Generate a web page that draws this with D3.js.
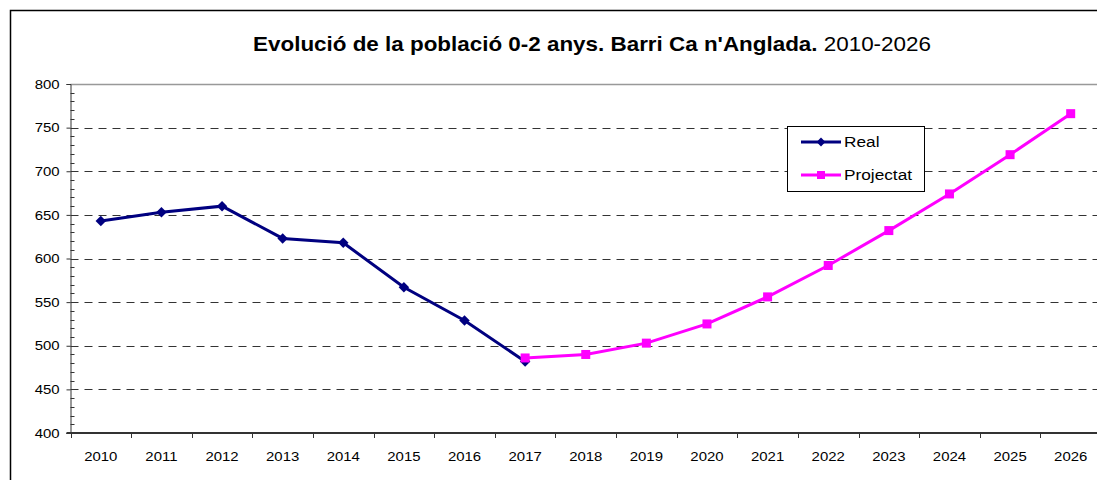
<!DOCTYPE html>
<html><head><meta charset="utf-8">
<script src="https://cdn.jsdelivr.net/npm/d3@7/dist/d3.min.js"></script>
<style>body{margin:0;background:#fff;} svg{display:block;}</style>
</head><body>
<svg id="c" width="1097" height="480"></svg>
<script>
const years = ["2010","2011","2012","2013","2014","2015","2016","2017","2018","2019","2020","2021","2022","2023","2024","2025","2026"];
const realYears = ["2010","2011","2012","2013","2014","2015","2016","2017"];
const realValues = [643, 653, 660, 623, 618, 567, 529, 482];
const projYears = ["2017","2018","2019","2020","2021","2022","2023","2024","2025","2026"];
const projValues = [486, 490, 503, 525, 556, 592, 632, 674, 719, 766];
const yTicks = [400, 450, 500, 550, 600, 650, 700, 750, 800];
const titleBold = "Evolució de la població 0-2 anys. Barri Ca n'Anglada.";
const titleRest = " 2010-2026";
const seriesNames = ["Real", "Projectat"];

(function(){
const svg = d3.select("#c");
const font = "Liberation Sans, Arial, sans-serif";
const sx = 1.15; // horizontal text stretch seen in the reference
const pL = 70.5, pR = 1101, pT = 84, pB = 433;

// outer frame
svg.append("rect").attr("x",10.5).attr("y",10.5).attr("width",1100).attr("height",480)
  .attr("fill","#fff").attr("stroke","#000").attr("stroke-width",1.5);

const x = d3.scaleBand().domain(years).range([pL, pR]);
const y = d3.scaleLinear().domain([400, 800]).range([pB, pT]);

// plot area top border (gray)
svg.append("line").attr("x1",pL).attr("x2",pR).attr("y1",y(800)+0.5).attr("y2",y(800)+0.5)
  .attr("stroke","#999").attr("stroke-width",1.5);

// gridlines
svg.append("g").selectAll("line").data(yTicks.filter(d=>d>400 && d<800)).join("line")
  .attr("x1",pL).attr("x2",pR)
  .attr("y1",d=>Math.round(y(d))+0.5).attr("y2",d=>Math.round(y(d))+0.5)
  .attr("stroke","#333").attr("stroke-width",1).attr("stroke-dasharray","8,6");

// y axis
const yAxis = d3.axisLeft(y).tickValues(yTicks).tickSize(4).tickPadding(5.5).tickFormat(d3.format("d"));
const gy = svg.append("g").attr("transform",`translate(${pL},0)`).call(yAxis);
gy.select(".domain").attr("stroke","#333");
gy.selectAll(".tick line").attr("stroke","#333");
gy.selectAll("text").attr("font-family",font).attr("font-size",13).attr("fill","#000")
  .attr("transform",`scale(${sx},1)`);
// minor ticks (inside)
const minor = d3.range(400, 801, 10).filter(d=>d%50!==0);
svg.append("g").selectAll("line").data(minor).join("line")
  .attr("x1",pL).attr("x2",pL+4)
  .attr("y1",d=>Math.round(y(d))+0.5).attr("y2",d=>Math.round(y(d))+0.5)
  .attr("stroke","#333");

// x axis
const xAxis = d3.axisBottom(x).tickSize(0).tickPadding(19);
const gx = svg.append("g").attr("transform",`translate(0,${pB})`).call(xAxis);
gx.select(".domain").remove();
gx.selectAll("text").attr("font-family",font).attr("font-size",13).attr("fill","#000")
  .attr("transform",`scale(${sx},1)`);
// band boundary ticks
svg.append("g").selectAll("line").data(years).join("line")
  .attr("x1",d=>Math.round(x(d))+0.5).attr("x2",d=>Math.round(x(d))+0.5)
  .attr("y1",pB).attr("y2",pB+5).attr("stroke","#333");
svg.append("line").attr("x1",pL-4).attr("x2",pR).attr("y1",pB).attr("y2",pB)
  .attr("stroke","#333").attr("stroke-width",2);

const cx = d => x(d) + x.bandwidth()/2;
const line = d3.line().x(d=>cx(d[0])).y(d=>y(d[1]));
const realData = realYears.map((d,i)=>[d, realValues[i]]);
const projData = projYears.map((d,i)=>[d, projValues[i]]);

svg.append("path").datum(realData).attr("d",line).attr("fill","none")
  .attr("stroke","#000080").attr("stroke-width",3);
const diamond = d3.symbol().type(d3.symbolDiamond2).size(70);
svg.append("g").selectAll("path").data(realData).join("path")
  .attr("d",diamond).attr("transform",d=>`translate(${cx(d[0])},${y(d[1])})`)
  .attr("fill","#000080");

svg.append("path").datum(projData).attr("d",line).attr("fill","none")
  .attr("stroke","#FF00FF").attr("stroke-width",3);
svg.append("g").selectAll("rect").data(projData).join("rect")
  .attr("x",d=>cx(d[0])-4.5).attr("y",d=>y(d[1])-4.5).attr("width",9).attr("height",9)
  .attr("fill","#FF00FF");

// title
const t = svg.append("text").attr("transform",`translate(592,51) scale(${sx},1)`).attr("text-anchor","middle")
  .attr("font-family",font).attr("font-size",19.5).attr("fill","#000");
t.append("tspan").attr("font-weight","bold").text(titleBold);
t.append("tspan").text(titleRest);

// legend
const lg = svg.append("g");
lg.append("rect").attr("x",787.5).attr("y",126.5).attr("width",137).attr("height",65)
  .attr("fill","#fff").attr("stroke","#000").attr("stroke-width",1);
const ly = [142, 175];
const colors = ["#000080","#FF00FF"];
seriesNames.forEach((n,i)=>{
  lg.append("line").attr("x1",801).attr("x2",841).attr("y1",ly[i]).attr("y2",ly[i])
    .attr("stroke",colors[i]).attr("stroke-width",3);
  if(i===0){
    lg.append("path").attr("d",d3.symbol().type(d3.symbolDiamond2).size(50)())
      .attr("transform",`translate(821,${ly[i]})`).attr("fill",colors[i]);
  } else {
    lg.append("rect").attr("x",817).attr("y",ly[i]-4).attr("width",8).attr("height",8).attr("fill",colors[i]);
  }
  lg.append("text").attr("transform",`translate(844,${ly[i]+5}) scale(${sx},1)`).attr("font-family",font).attr("font-size",15)
    .attr("fill","#000").text(n);
});
})();
</script>
</body></html>
